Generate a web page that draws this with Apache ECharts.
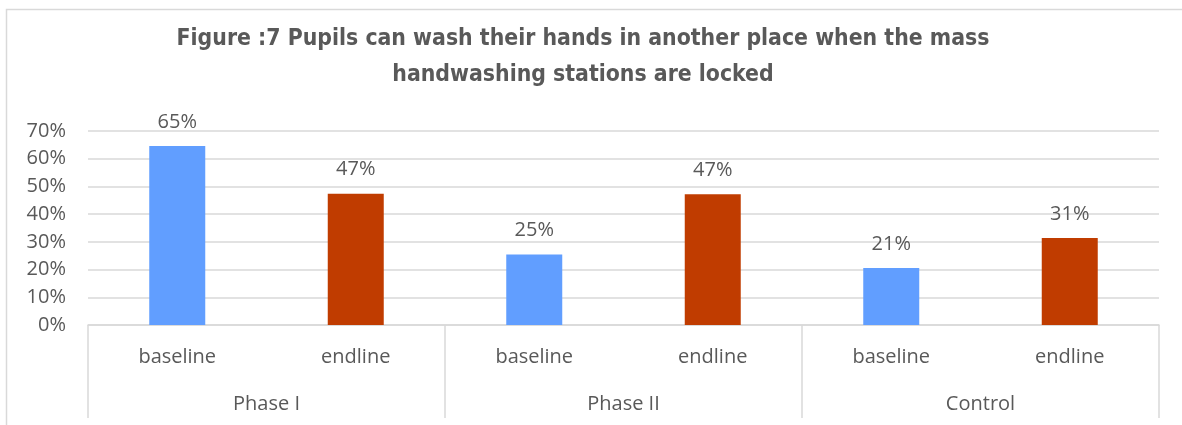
<!DOCTYPE html>
<html>
<head>
<meta charset="utf-8">
<script src="https://cdn.jsdelivr.net/npm/echarts@6/dist/echarts.min.js"></script>
<style>html,body{margin:0;padding:0;background:#fff}#c{width:1182px;height:425px}</style>
</head>
<body>
<div id="c"></div>
<script>
const titleText = 'Figure :7 Pupils can wash their hands in another place when the mass\nhandwashing stations are locked';
const categories = ['baseline', 'endline', 'baseline', 'endline', 'baseline', 'endline'];
const groups = ['Phase I', 'Phase II', 'Control'];
const values = [0.646, 0.474, 0.254, 0.472, 0.206, 0.314];
const yTicks = [0, 0.1, 0.2, 0.3, 0.4, 0.5, 0.6, 0.7];
const colors = { baseline: '#619EFF', endline: '#C03C00' };

const chart = echarts.init(document.getElementById('c'));
const FONT = '"Open Sans", sans-serif';
const TFONT = '"DejaVu Sans Condensed", Lato, sans-serif';
chart.setOption({
  animation: false,
  textStyle: { fontFamily: FONT },
  graphic: [{
    type: 'rect', shape: { x: 6.5, y: 9.5, width: 1300, height: 500 },
    style: { fill: 'none', stroke: '#d9d9d9', lineWidth: 1.5 }, silent: true, z: -1
  }],
  title: {
    text: titleText, left: 578, textAlign: 'center', top: 16,
    textStyle: { fontFamily: TFONT, fontWeight: 'bold', fontSize: 22.8, color: '#595959', lineHeight: 36 }
  },
  grid: { left: 88, right: 23, top: 131, bottom: 100, containLabel: false },
  xAxis: [{
    type: 'category', data: categories, position: 'bottom',
    axisLine: { show: true, lineStyle: { color: '#d9d9d9', width: 1.5 } },
    axisTick: { show: false },
    axisLabel: { color: '#595959', fontSize: 20, margin: 22, fontFamily: FONT }
  }, {
    type: 'category', data: groups, position: 'bottom',
    axisLine: { show: false },
    axisTick: { show: true, interval: 0, length: 93, lineStyle: { color: '#d9d9d9', width: 1.5 } },
    axisLabel: { color: '#595959', fontSize: 20, margin: 69, fontFamily: FONT }
  }],
  yAxis: {
    type: 'value', min: 0, max: 0.7, interval: 0.1,
    axisLine: { show: false }, axisTick: { show: false },
    splitLine: { lineStyle: { color: '#d9d9d9', width: 1.5 } },
    axisLabel: {
      color: '#595959', fontSize: 20, margin: 22, fontFamily: FONT,
      formatter: v => Math.round(v * 100) + '%'
    }
  },
  series: [{
    type: 'bar', xAxisIndex: 0, barWidth: 56,
    data: values.map((v, i) => ({ value: v, itemStyle: { color: colors[categories[i]] } })),
    label: {
      show: true, position: 'top', distance: 14, color: '#595959', fontSize: 20, fontFamily: FONT,
      formatter: p => Math.round(p.value * 100) + '%'
    }
  }]
});
</script>
</body>
</html>
